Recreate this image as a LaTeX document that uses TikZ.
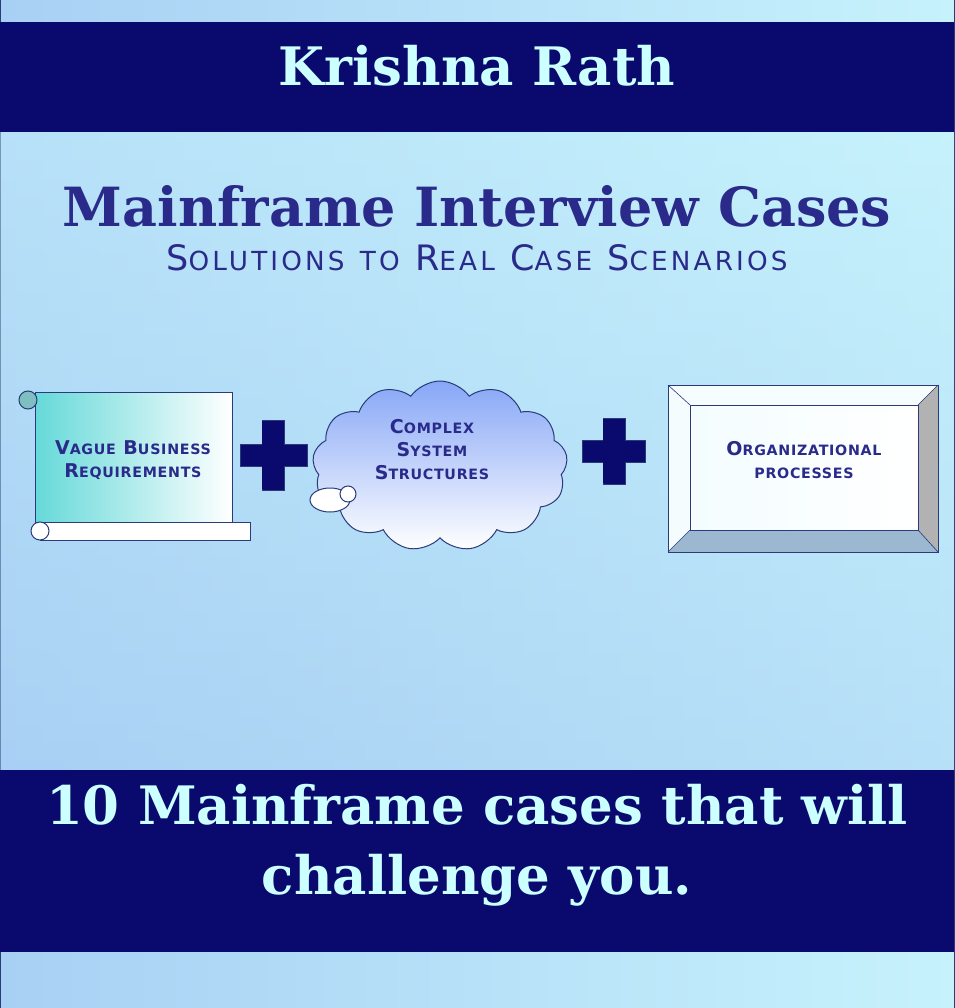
\documentclass[tikz,border=0pt]{standalone}
\usepackage{fontspec}
\setmainfont{DejaVu Serif}
\newfontfamily\wide[LetterSpace=12]{DejaVu Sans}
\newfontfamily\widebf[LetterSpace=5]{DejaVu Sans Bold}
\usetikzlibrary{shapes.symbols}
\definecolor{navy}{HTML}{0A0A6E}
\definecolor{bandtxt}{HTML}{CCFFFF}
\definecolor{ttl}{HTML}{2A2A8A}
\definecolor{bgA}{HTML}{A8D0F4}
\definecolor{bgB}{HTML}{C6F2FC}
\definecolor{edge}{HTML}{2A3A7A}
\newcommand{\fc}[2]{#1{\fontsize{0.75\fsz}{0}\selectfont #2}}
\newlength\fsz
\tikzset{
  band/.style={fill=navy,draw=none},
  plus/.style={fill=navy,draw=edge,line width=0.8pt},
  lbl/.style={font=\widebf\setlength\fsz{19pt}\fontsize{19}{23}\selectfont,text=ttl,align=center},
  bigtxt/.style={font=\bfseries\fontsize{53}{70}\selectfont,text=bandtxt,align=center},
}
\begin{document}
\begin{tikzpicture}[x=1pt,y=-1pt]
\useasboundingbox (0,0) rectangle (954,1008);
\shade[left color=bgA,right color=bgB,draw=edge,line width=1pt] (0,0) rectangle (954,1008);
\shade[top color=bgB,bottom color=bgA,opacity=0.5] (0,132) rectangle (954,770);
\fill[band] (0,22) rectangle (954,132);
\fill[band] (0,770) rectangle (954,952);
\node[bigtxt] (author) at (477,66) {Krishna Rath};
\node[font=\bfseries\fontsize{54}{60}\selectfont,text=ttl] (title) at (477,206) {Mainframe Interview Cases};
\node[font=\wide\setlength\fsz{35pt}\fontsize{35}{38}\selectfont,text=ttl] (sub) at (477,258)
  {\fc{S}{OLUTIONS} \fc{}{TO} \fc{R}{EAL} \fc{C}{ASE} \fc{S}{CENARIOS}};
% scroll
\shade[left color=cyan!50!teal!60,right color=white,draw=edge,line width=1pt]
  (35,392) -- (232,392) -- (232,522) -- (35,522) -- cycle;
\draw[edge,line width=1pt,fill=white] (40,522) rectangle (250,540);
\draw[edge,line width=1pt,fill=white] (40,531) circle (9);
\draw[edge,line width=1pt,fill=teal!50] (28,400) circle (9);
\node[lbl] (scroll) at (133,460) {\fc{V}{AGUE} \fc{B}{USINESS}\\\fc{R}{EQUIREMENTS}};
% plus 1
\fill[plus] (262,420) rectangle (284,490);
\fill[plus] (240,444) rectangle (307,466);
\fill[navy] (262,421) rectangle (284,489);
% cloud
\node[cloud,cloud puffs=13,cloud puff arc=110,aspect=1.5,minimum width=255pt,minimum height=170pt,
  draw=edge,line width=1pt,top color=bgA!80!blue,bottom color=white] (cloud) at (440,466) {};
\draw[edge,line width=1pt,fill=white] (330,500) ellipse (20 and 12);
\draw[edge,line width=1pt,fill=white] (348,494) circle (8);
\node[lbl] (cloudtxt) at (432,450) {\fc{C}{OMPLEX}\\\fc{S}{YSTEM}\\\fc{S}{TRUCTURES}};
% plus 2
\fill[plus] (603,418) rectangle (625,484);
\fill[plus] (582,440) rectangle (645,462);
\fill[navy] (603,419) rectangle (625,483);
% bevel frame
\fill[white!85!bgB] (668,385) -- (938,385) -- (918,405) -- (690,405) -- cycle;
\fill[gray!60] (938,385) -- (938,552) -- (918,530) -- (918,405) -- cycle;
\fill[bgA!70!gray] (668,552) -- (938,552) -- (918,530) -- (690,530) -- cycle;
\fill[white!80!bgB] (668,385) -- (690,405) -- (690,530) -- (668,552) -- cycle;
\draw[edge,line width=1pt] (668,385) rectangle (938,552);
\shade[left color=white!80!bgB,right color=white,draw=edge,line width=1pt] (690,405) rectangle (918,530);
\draw[edge,line width=0.6pt] (668,385) -- (690,405) (938,385) -- (918,405) (938,552) -- (918,530) (668,552) -- (690,530);
\node[lbl] (proc) at (804,460) {\fc{O}{RGANIZATIONAL}\\\fc{}{PROCESSES}};
\node[bigtxt] (tag) at (477,845) {10 Mainframe cases that will\\challenge you.};
\end{tikzpicture}
\end{document}
